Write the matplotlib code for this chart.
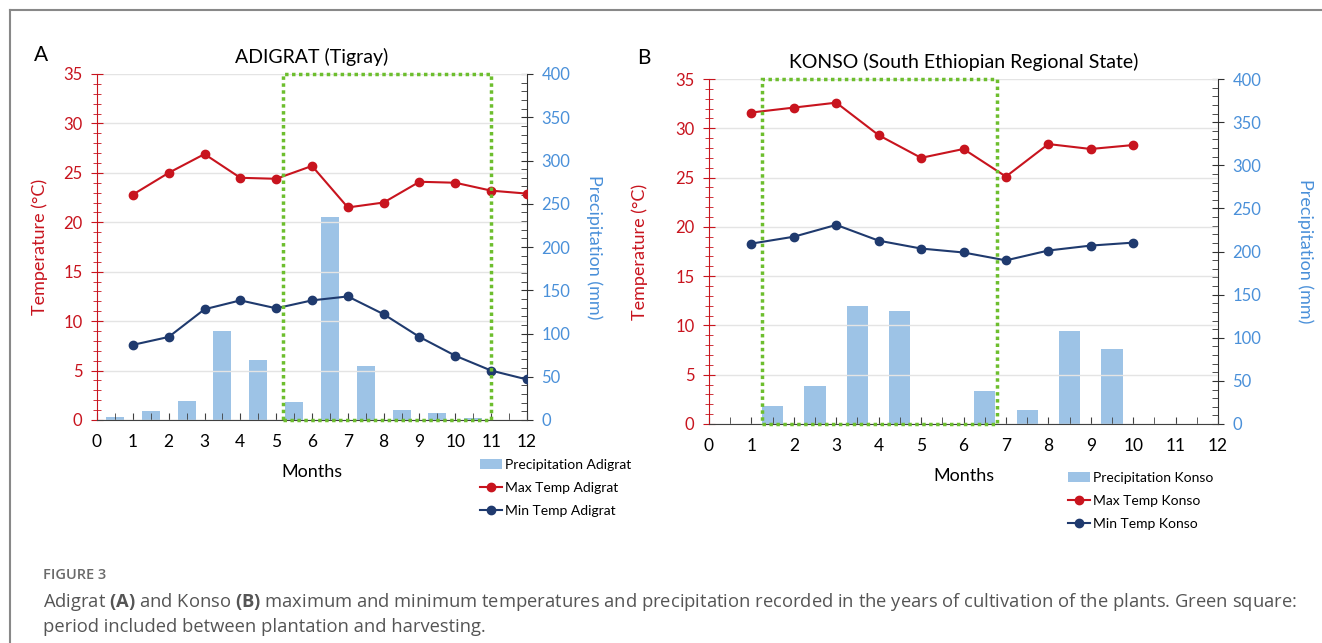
import matplotlib.pyplot as plt
import numpy as np
from matplotlib.patches import Rectangle
from matplotlib.lines import Line2D
from matplotlib.ticker import MultipleLocator

plt.rcParams['font.family'] = ['Lato', 'DejaVu Sans']
plt.rcParams['mathtext.fontset'] = 'custom'
plt.rcParams['mathtext.bf'] = 'Open Sans:bold'
plt.rcParams['mathtext.rm'] = 'Open Sans'

# %% data
months = np.arange(1, 13)

# Adigrat
adi_prec = [3, 10, 22, 103, 69, 21, 235, 63, 11, 8, 2]
adi_max = [22.8, 25.0, 26.9, 24.5, 24.4, 25.7, 21.5, 22.0, 24.1, 24.0, 23.2, 22.9]
adi_min = [7.6, 8.4, 11.2, 12.1, 11.3, 12.1, 12.5, 10.7, 8.4, 6.5, 5.0, 4.1]
adi_box = (5.2, 11.0)

# Konso
kon_prec = [0, 20.5, 44, 137, 131, 0, 38, 16, 108, 87]
kon_max = [31.6, 32.1, 32.6, 29.3, 27.0, 27.9, 25.1, 28.4, 27.9, 28.3]
kon_min = [18.3, 19.0, 20.2, 18.6, 17.8, 17.4, 16.6, 17.6, 18.1, 18.4]
kon_box = (1.25, 6.78)

RED = '#C8141E'
NAVY = '#1F3A6E'
BAR = '#9DC3E6'
BLUE = '#4A90D9'
GREEN = '#6DBE2E'
W, H = 1322, 643


def panel(rect, title, prec, tmax, tmin, box, name, ylab_x, y2lab_x):
    ax = fig.add_axes(rect)
    ax2 = ax.twinx()
    ax.set_zorder(ax2.get_zorder() + 1)
    ax.patch.set_visible(False)

    xb = np.arange(len(prec)) + 0.5
    ax2.bar(xb, prec, width=0.5, color=BAR, label='Precipitation ' + name)
    ax.plot(months[:len(tmax)], tmax, color=RED, marker='o', ms=6, lw=1.5,
            label='Max Temp ' + name)
    ax.plot(months[:len(tmin)], tmin, color=NAVY, marker='o', ms=6, lw=1.5,
            label='Min Temp ' + name)

    ax.add_patch(Rectangle((box[0], 0), box[1] - box[0], 35, fill=False,
                           ls=(0, (1, 1)), lw=2.5, ec=GREEN, clip_on=False, zorder=5))

    ax.set_xlim(0, 12)
    ax.set_ylim(0, 35)
    ax2.set_ylim(0, 400)
    ax.set_xticks(range(13))
    ax.xaxis.set_minor_locator(MultipleLocator(0.5))
    ax.yaxis.set_major_locator(MultipleLocator(5))
    ax.yaxis.set_minor_locator(MultipleLocator(1))
    ax2.yaxis.set_major_locator(MultipleLocator(50))
    ax2.yaxis.set_minor_locator(MultipleLocator(10))
    ax.grid(axis='y', color='#E4E4E4', lw=1)
    ax.set_axisbelow(True)

    for a in (ax, ax2):
        a.spines['top'].set_visible(False)
    ax.spines['right'].set_visible(False)
    ax2.spines['left'].set_visible(False)
    ax2.spines['bottom'].set_visible(False)
    ax.spines['left'].set_color(RED)
    ax.spines['bottom'].set_color('#404040')
    ax2.spines['right'].set_color('#303030')

    ax.tick_params(axis='y', which='major', direction='inout', length=9, color=RED,
                   labelcolor=RED, labelsize=12, pad=6)
    ax.tick_params(axis='y', which='minor', direction='inout', length=6, color=RED)
    ax.tick_params(axis='x', which='both', direction='in', length=5, color='#404040',
                   labelsize=12.5, pad=10)
    ax2.tick_params(axis='y', which='major', direction='inout', length=9,
                    color='#303030', labelcolor=BLUE, labelsize=12, pad=6)
    ax2.tick_params(axis='y', which='minor', direction='in', length=4, color='#303030')

    ax.set_ylabel('Temperature (°C)', color=RED, fontsize=13, va='center')
    ax.yaxis.set_label_coords(ylab_x, 0.5)
    ax2.set_ylabel('Precipitation (mm)', color=BLUE, fontsize=13, rotation=270,
                   va='center')
    ax2.yaxis.set_label_coords(y2lab_x, 0.5)
    ax.set_xlabel('Months', fontsize=13, labelpad=10)
    ax.set_title(title, fontsize=14, pad=8)
    return ax, ax2


fig = plt.figure(figsize=(W / 100, H / 100), dpi=100)

axA, axA2 = panel([97 / W, 1 - 420 / H, 430 / W, 346 / H], 'ADIGRAT (Tigray)',
                  adi_prec, adi_max, adi_min, adi_box, 'Adigrat', -0.1326, 1.156)
axB, axB2 = panel([709 / W, 1 - 424 / H, 509 / W, 345 / H],
                  'KONSO (South Ethiopian Regional State)',
                  kon_prec, kon_max, kon_min, kon_box, 'Konso', -0.1356, 1.171)

fig.text(34 / W, 1 - 55 / H, 'A', fontsize=15, va='center')
fig.text(637 / W, 1 - 58 / H, 'B', fontsize=15, va='center')

for ax, ax2, (lx, ly) in [(axA, axA2, (480, 459)), (axB, axB2, (1068, 472))]:
    h1, l1 = ax2.get_legend_handles_labels()
    h2, l2 = ax.get_legend_handles_labels()
    fig.legend(h1 + h2, l1 + l2, loc='upper left', bbox_to_anchor=(lx / W, 1 - ly / H),
               frameon=False, fontsize=10, handlelength=1.6, handletextpad=0.2,
               labelspacing=0.78, borderaxespad=0, borderpad=0)

# frame lines
fig.add_artist(Line2D([10 / W, 1], [1 - 10 / H, 1 - 10 / H], color='#888888', lw=1.5))
fig.add_artist(Line2D([10 / W, 10 / W], [0, 1 - 10 / H], color='#888888', lw=1.5))

fig.text(43 / W, 1 - 575 / H, 'FIGURE 3', fontsize=10.5, color='#6A6A6A',
         family=['Open Sans', 'DejaVu Sans'], weight='semibold', va='center')
fig.text(43 / W, 1 - 602 / H,
         'Adigrat $\\bf{(A)}$ and Konso $\\bf{(B)}$ maximum and minimum temperatures and '
         'precipitation recorded in the years of cultivation of the plants. Green square:',
         fontsize=13.2, color='#555555', family=['Open Sans', 'DejaVu Sans'], va='center')
fig.text(43 / W, 1 - 627 / H, 'period included between plantation and harvesting.',
         fontsize=13.2, color='#555555', family=['Open Sans', 'DejaVu Sans'], va='center')

fig.savefig('out.png', dpi=100)
